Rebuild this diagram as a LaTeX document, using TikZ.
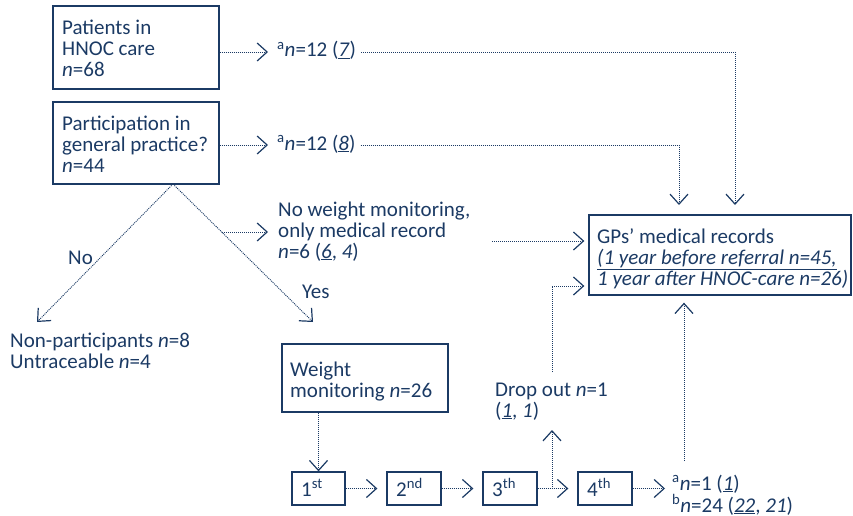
\documentclass[tikz,border=0pt]{standalone}
\usepackage{fontspec}
\setmainfont{Carlito}
\usetikzlibrary{arrows.meta,fit}
\definecolor{dblue}{HTML}{1B3A64}
\tikzset{
  every node/.style={text=dblue, font=\fontsize{21}{21}\selectfont},
  box/.style={draw=dblue, line width=1.3pt, inner sep=0pt},
  txt/.style={inner sep=0pt, align=left, anchor=base west},
  conn/.style={draw=dblue, line width=0.9pt, dash pattern=on 1pt off 1pt},
  arr/.style={conn, -{Straight Barb[length=10pt, width=18pt, line width=1.2pt]}},
}
\begin{document}
\begin{tikzpicture}[x=1pt,y=-1pt]
\useasboundingbox (0,0) rectangle (853,516);
% boxes (multi-line texts are placed by the baseline of their last line)
\node[box, fit={(53,6) (219,89)}] (b1) {};
\node[txt] (t1) at (62,77) {Patients in\\HNOC care\\\textit{n}=68};
\node[box, fit={(53,102) (219,184)}] (b2) {};
\node[txt] (t2) at (62,172) {Participation in\\general practice?\\\textit{n}=44};
\node[box, fit={(589,215) (851,295)}] (gp) {};
\node[txt] (tgp) at (597,285) {GPs’ medical records\\\underline{\textit{(1 year before referral n=45,}}\\\textit{1 year after HNOC-care n=26)}};
\node[box, fit={(282,344) (448,412)}] (bw) {};
\node[txt] (tw) at (290,397) {Weight\\monitoring \textit{n}=26};
\node[box, fit={(292,472) (345,505)}] (s1) {};
\node[txt] (ts1) at (301,496) {1\textsuperscript{st}};
\node[box, fit={(387,472) (441,505)}] (s2) {};
\node[txt] (ts2) at (396,496) {2\textsuperscript{nd}};
\node[box, fit={(483,472) (537,505)}] (s3) {};
\node[txt] (ts3) at (492,496) {3\textsuperscript{th}};
\node[box, fit={(578,472) (632,505)}] (s4) {};
\node[txt] (ts4) at (587,496) {4\textsuperscript{th}};
% labels
\node[txt] (la1) at (277,57) {\textsuperscript{a}\textit{n}=12 (\underline{\textit{7}})};
\node[txt] (la2) at (277,150) {\textsuperscript{a}\textit{n}=12 (\underline{\textit{8}})};
\node[txt] (lnw) at (278,258) {No weight monitoring,\\only medical record\\\textit{n}=6 (\underline{\textit{6}}, \textit{4})};
\node[txt] (lno) at (68,264) {No};
\node[txt] (lyes) at (302,298) {Yes};
\node[txt] (lnp) at (10,368) {Non-participants \textit{n}=8\\Untraceable \textit{n}=4};
\node[txt] (ldrop) at (495,417) {Drop out \textit{n}=1\\(\underline{\textit{1}}, \textit{1})};
\node[txt] (lend) at (672,512) {\textsuperscript{a}\textit{n}=1 (\underline{\textit{1}})\\[1pt]\textsuperscript{b}\textit{n}=24 (\underline{\textit{22}}, \textit{21})};
% coordinates
\coordinate (apex) at (173,184);
\coordinate (tipno) at (37,322);
\coordinate (tipyes) at (313,322);
\coordinate (dmid) at (222,232);
\coordinate (gpin1) at (735,205);
\coordinate (gpin2) at (679,205);
\coordinate (br) at (552,491);
% connectors
\draw[arr] (b1.east |- 0,52) -- (268,52);
\draw[arr, shorten <=5pt] (la1.east |- 0,52) -| (gpin1);
\draw[arr] (b2.east |- 0,145) -- (268,145);
\draw[arr, shorten <=5pt] (la2.east |- 0,145) -| (gpin2);
\draw[arr] (apex) -- (tipno);
\draw[arr] (apex) -- (tipyes);
\draw[arr] (dmid) -- ([xshift=-10pt]lnw.west |- dmid);
\draw[arr] (492,241) -- ([xshift=-4pt]gp.west |- 0,241);
\draw[arr] (552,372) |- ([xshift=-4pt]gp.west |- 0,286);
\draw[arr] (s1.north |- bw.south) -- (s1.north);
\draw[arr, shorten >=9pt] (s1.east) -- (s2.west);
\draw[arr, shorten >=9pt] (s2.east) -- (s3.west);
\draw[arr, shorten >=9pt] (s3.east) -- (s4.west);
\draw[arr] (br |- s3.east) -- (552,430);
\draw[arr] (s4.east) -- ([xshift=-7pt]lend.west |- s4.east);
\draw[arr] (684,461) -- ([yshift=-7pt]gp.south -| 684,0);
\end{tikzpicture}
\end{document}
